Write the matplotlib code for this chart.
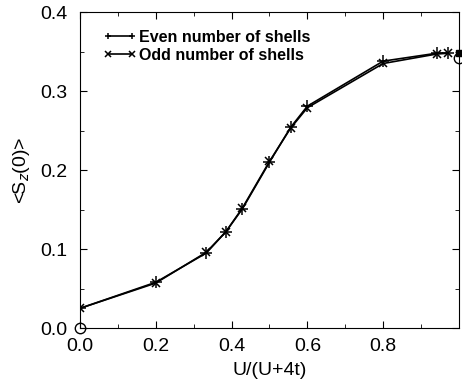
import matplotlib
matplotlib.use("Agg")
import matplotlib.pyplot as plt
from matplotlib.ticker import MultipleLocator

plt.rcParams['font.family'] = ['Liberation Sans', 'DejaVu Sans']

# U/(U+4t) values
x_vals = [0.0, 0.2, 1/3, 0.385, 0.4286, 0.5, 0.5556, 0.6, 0.8, 0.9412, 0.9697]
even_vals = [0.025, 0.058, 0.095, 0.122, 0.151, 0.210, 0.254, 0.281, 0.338, 0.348, 0.348]
odd_vals = [0.025, 0.057, 0.096, 0.122, 0.152, 0.211, 0.253, 0.279, 0.335, 0.347, 0.348]

# limiting values
circle_x = [0.0, 1.0]
circle_y = [0.0, 0.342]
square_x = [1.0]
square_y = [0.348]

fig = plt.figure(figsize=(4.62, 3.92), dpi=100)
ax = fig.add_axes([0.173, 0.163, 0.8205, 0.806])

ax.plot(x_vals, even_vals, color='black', lw=1.2, marker='+', ms=9, mew=1.1,
        label='Even number of shells')
ax.plot(x_vals, odd_vals, color='black', lw=1.2, marker='x', ms=6, mew=1.1,
        label='Odd number of shells')
ax.plot(circle_x, circle_y, ls='none', marker='o', ms=7.5, mfc='none', mec='black',
        mew=1.0, clip_on=False, zorder=5)
ax.plot(square_x, square_y, ls='none', marker='s', ms=5, color='black',
        clip_on=False, zorder=5)

ax.set_xlim(0, 1)
ax.set_ylim(0, 0.4)
ax.set_xticks([0.0, 0.2, 0.4, 0.6, 0.8])
ax.set_xticklabels(['0.0', '0.2', '0.4', '0.6', '0.8'])
ax.set_yticks([0.0, 0.1, 0.2, 0.3, 0.4])
ax.set_yticklabels(['0.0', '0.1', '0.2', '0.3', '0.4'])
ax.xaxis.set_minor_locator(MultipleLocator(0.1))
ax.yaxis.set_minor_locator(MultipleLocator(0.05))
ax.tick_params(which='both', direction='in', top=True, right=True, labelsize=14)
ax.tick_params(which='major', length=5)
ax.tick_params(which='minor', length=3)
ax.tick_params(axis='x', which='major', pad=7)
ax.tick_params(axis='y', which='major', pad=9)

ax.set_xlabel('U/(U+4t)', fontsize=14, labelpad=5)
ax.set_ylabel(r'<S$_z$(0)>', fontsize=14, labelpad=6)

leg = ax.legend(loc='upper left', bbox_to_anchor=(0.061, 0.945), frameon=False,
                numpoints=2, handlelength=2.1, handletextpad=0.15,
                labelspacing=0.2, borderpad=0, borderaxespad=0,
                prop={'weight': 'bold', 'size': 11.5})
for h in leg.legend_handles:
    h.set_markersize(5)

fig.savefig('out.png', dpi=100)
